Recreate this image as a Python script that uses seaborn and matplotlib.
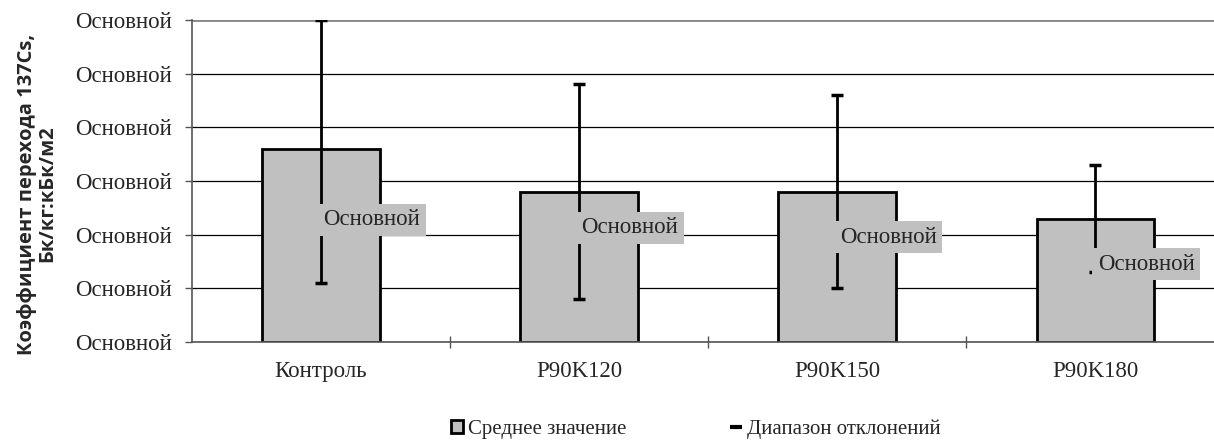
import matplotlib
matplotlib.use("Agg")
import matplotlib.pyplot as plt
import seaborn as sns
import pandas as pd
from matplotlib.patches import Patch
from matplotlib.lines import Line2D

# data (y axis labels are all "Основной", so units are arbitrary)
categories = ["Контроль", "P90K120", "P90K150", "P90K180"]
means = [3.6, 2.8, 2.8, 2.3]
err_low = [2.5, 2.0, 1.8, 1.0]
err_high = [2.4, 2.0, 1.8, 1.0]
ytick_values = [0, 1, 2, 3, 4, 5, 6]
ytick_labels = ["Основной"] * 7
point_labels = ["Основной"] * 4

df = pd.DataFrame({"cat": categories, "mean": means})

sns.set_style("white")
plt.rcParams["font.family"] = ["Liberation Serif", "DejaVu Serif"]

fig = plt.figure(figsize=(12.14, 4.41), dpi=100)
ax = fig.add_axes([0.158, 0.2245, 0.842, 0.7301])

sns.barplot(data=df, x="cat", y="mean", color="#c0c0c0", saturation=1,
            edgecolor="black", linewidth=2, width=0.455, errorbar=None, ax=ax, zorder=2)

ax.errorbar(range(len(categories)), means, yerr=[err_low, err_high], fmt="none",
            ecolor="black", elinewidth=2, capsize=4.5, capthick=2.5, zorder=3)

# data labels in grey boxes (Excel style), placed a bit below the middle of each bar
label_y = [2.28, 2.13, 1.95, 1.45]
for i, (lab, yy) in enumerate(zip(point_labels, label_y)):
    ax.text(i + 0.01, yy, lab, ha="left", va="center", fontsize=16.5, zorder=4,
            bbox=dict(facecolor="#c0c0c0", edgecolor="none", pad=4))

ax.set_xlim(-0.5, 3.46)
ax.set_ylim(0, 6)
ax.set_yticks(ytick_values)
ax.set_yticklabels(ytick_labels, fontsize=16.5)
ax.yaxis.grid(True, color="black", linewidth=0.9, zorder=0)
ax.set_axisbelow(True)
ax.tick_params(axis="y", direction="out", length=5, width=1, color="#555555", pad=9, left=True)

ax.set_xticks(range(len(categories)))
ax.set_xticklabels(categories, fontsize=16.5)
ax.set_xticks([0.5, 1.5, 2.5], minor=True)
ax.tick_params(axis="x", which="major", length=0, pad=14)
ax.tick_params(axis="x", which="minor", direction="inout", length=9, width=1,
               color="#555555", bottom=True)

for side in ["top", "right"]:
    ax.spines[side].set_visible(False)
ax.spines["left"].set_color("#555555")
ax.spines["bottom"].set_color("#555555")
ax.spines["left"].set_linewidth(1.2)
ax.spines["bottom"].set_linewidth(1.2)
ax.axhline(6, color="#888888", linewidth=2, zorder=1)

ax.set_xlabel("")
ax.set_ylabel("Коэффициент перехода 137Cs,\nБк/кг:кБк/м2", fontsize=14.5,
              fontweight="bold", family=["Open Sans", "DejaVu Sans"],
              linespacing=1.0)
ax.yaxis.set_label_coords(-0.132, 0.46)

handles = [Patch(facecolor="#c0c0c0", edgecolor="black", linewidth=2),
           Line2D([], [], color="black", marker="_", linestyle="none",
                  markersize=9, markeredgewidth=3)]
fig.legend(handles, ["Среднее значение", "Диапазон отклонений"], loc="lower center",
           bbox_to_anchor=(0.573, -0.038), ncol=2, frameon=False, fontsize=15,
           handlelength=0.6, handleheight=0.6, handletextpad=0.2, columnspacing=5.0)

fig.savefig("out.png", dpi=100)
